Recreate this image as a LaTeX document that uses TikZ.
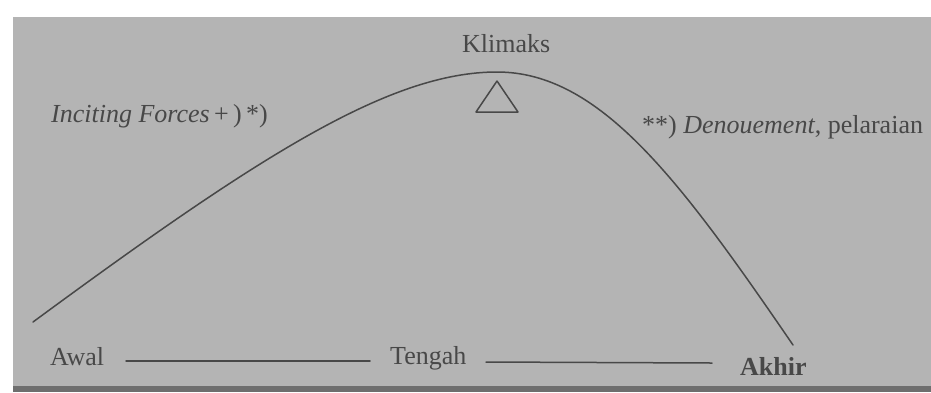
\documentclass[tikz,border=0pt]{standalone}
\usepackage{fontspec}
\setmainfont{Liberation Serif}
\definecolor{paper}{RGB}{180,180,180}
\definecolor{ink}{RGB}{72,72,72}
\definecolor{edge}{RGB}{110,110,110}
\begin{document}
\begin{tikzpicture}[x=1pt,y=-1pt,
  lbl/.style={inner sep=0pt,anchor=base west,text=ink,font=\fontsize{26}{31}\selectfont},
  stroke/.style={draw=ink,line width=1.5pt,line cap=round}]
\useasboundingbox (0,0) rectangle (931,392);
\fill[white] (0,0) rectangle (931,392);
\fill[paper] (13,17) rectangle (931,386);
\fill[edge] (13,386) rectangle (931,392);
% curve
\coordinate (c0) at (33,322);
\coordinate (peak) at (497,72);
\coordinate (c1) at (793,345);
\draw[stroke] (c0) .. controls (260,155) and (390,72) .. (peak)
  .. controls (600,72) and (680,180) .. (c1);
% triangle
\coordinate (ta) at (497,81);
\coordinate (tl) at (476,112);
\coordinate (tr) at (518,112);
\draw[stroke,line join=round] (ta) -- (tl) -- (tr) -- cycle;
% labels
\node[lbl] (klimaks) at (462,52) {Klimaks};
\node[lbl] (inciting) at (51,122) {\itshape Inciting Forces\upshape\,+\,)\,*)};
\node[lbl] (denou) at (642,133) {**) \textit{Denouement}, pelaraian};
\node[lbl] (awal) at (50,365) {Awal};
\node[lbl] (tengah) at (390,364) {Tengah};
\node[lbl,font=\fontsize{26}{31}\selectfont\bfseries] (akhir) at (740,375) {Akhir};
\coordinate (l1a) at (126,361);
\coordinate (l1b) at (370,361);
\coordinate (l2a) at (486,362);
\coordinate (l2b) at (712,363);
\draw[stroke] (l1a) -- (l1b);
\draw[stroke] (l2a) -- (l2b);
\end{tikzpicture}
\end{document}
